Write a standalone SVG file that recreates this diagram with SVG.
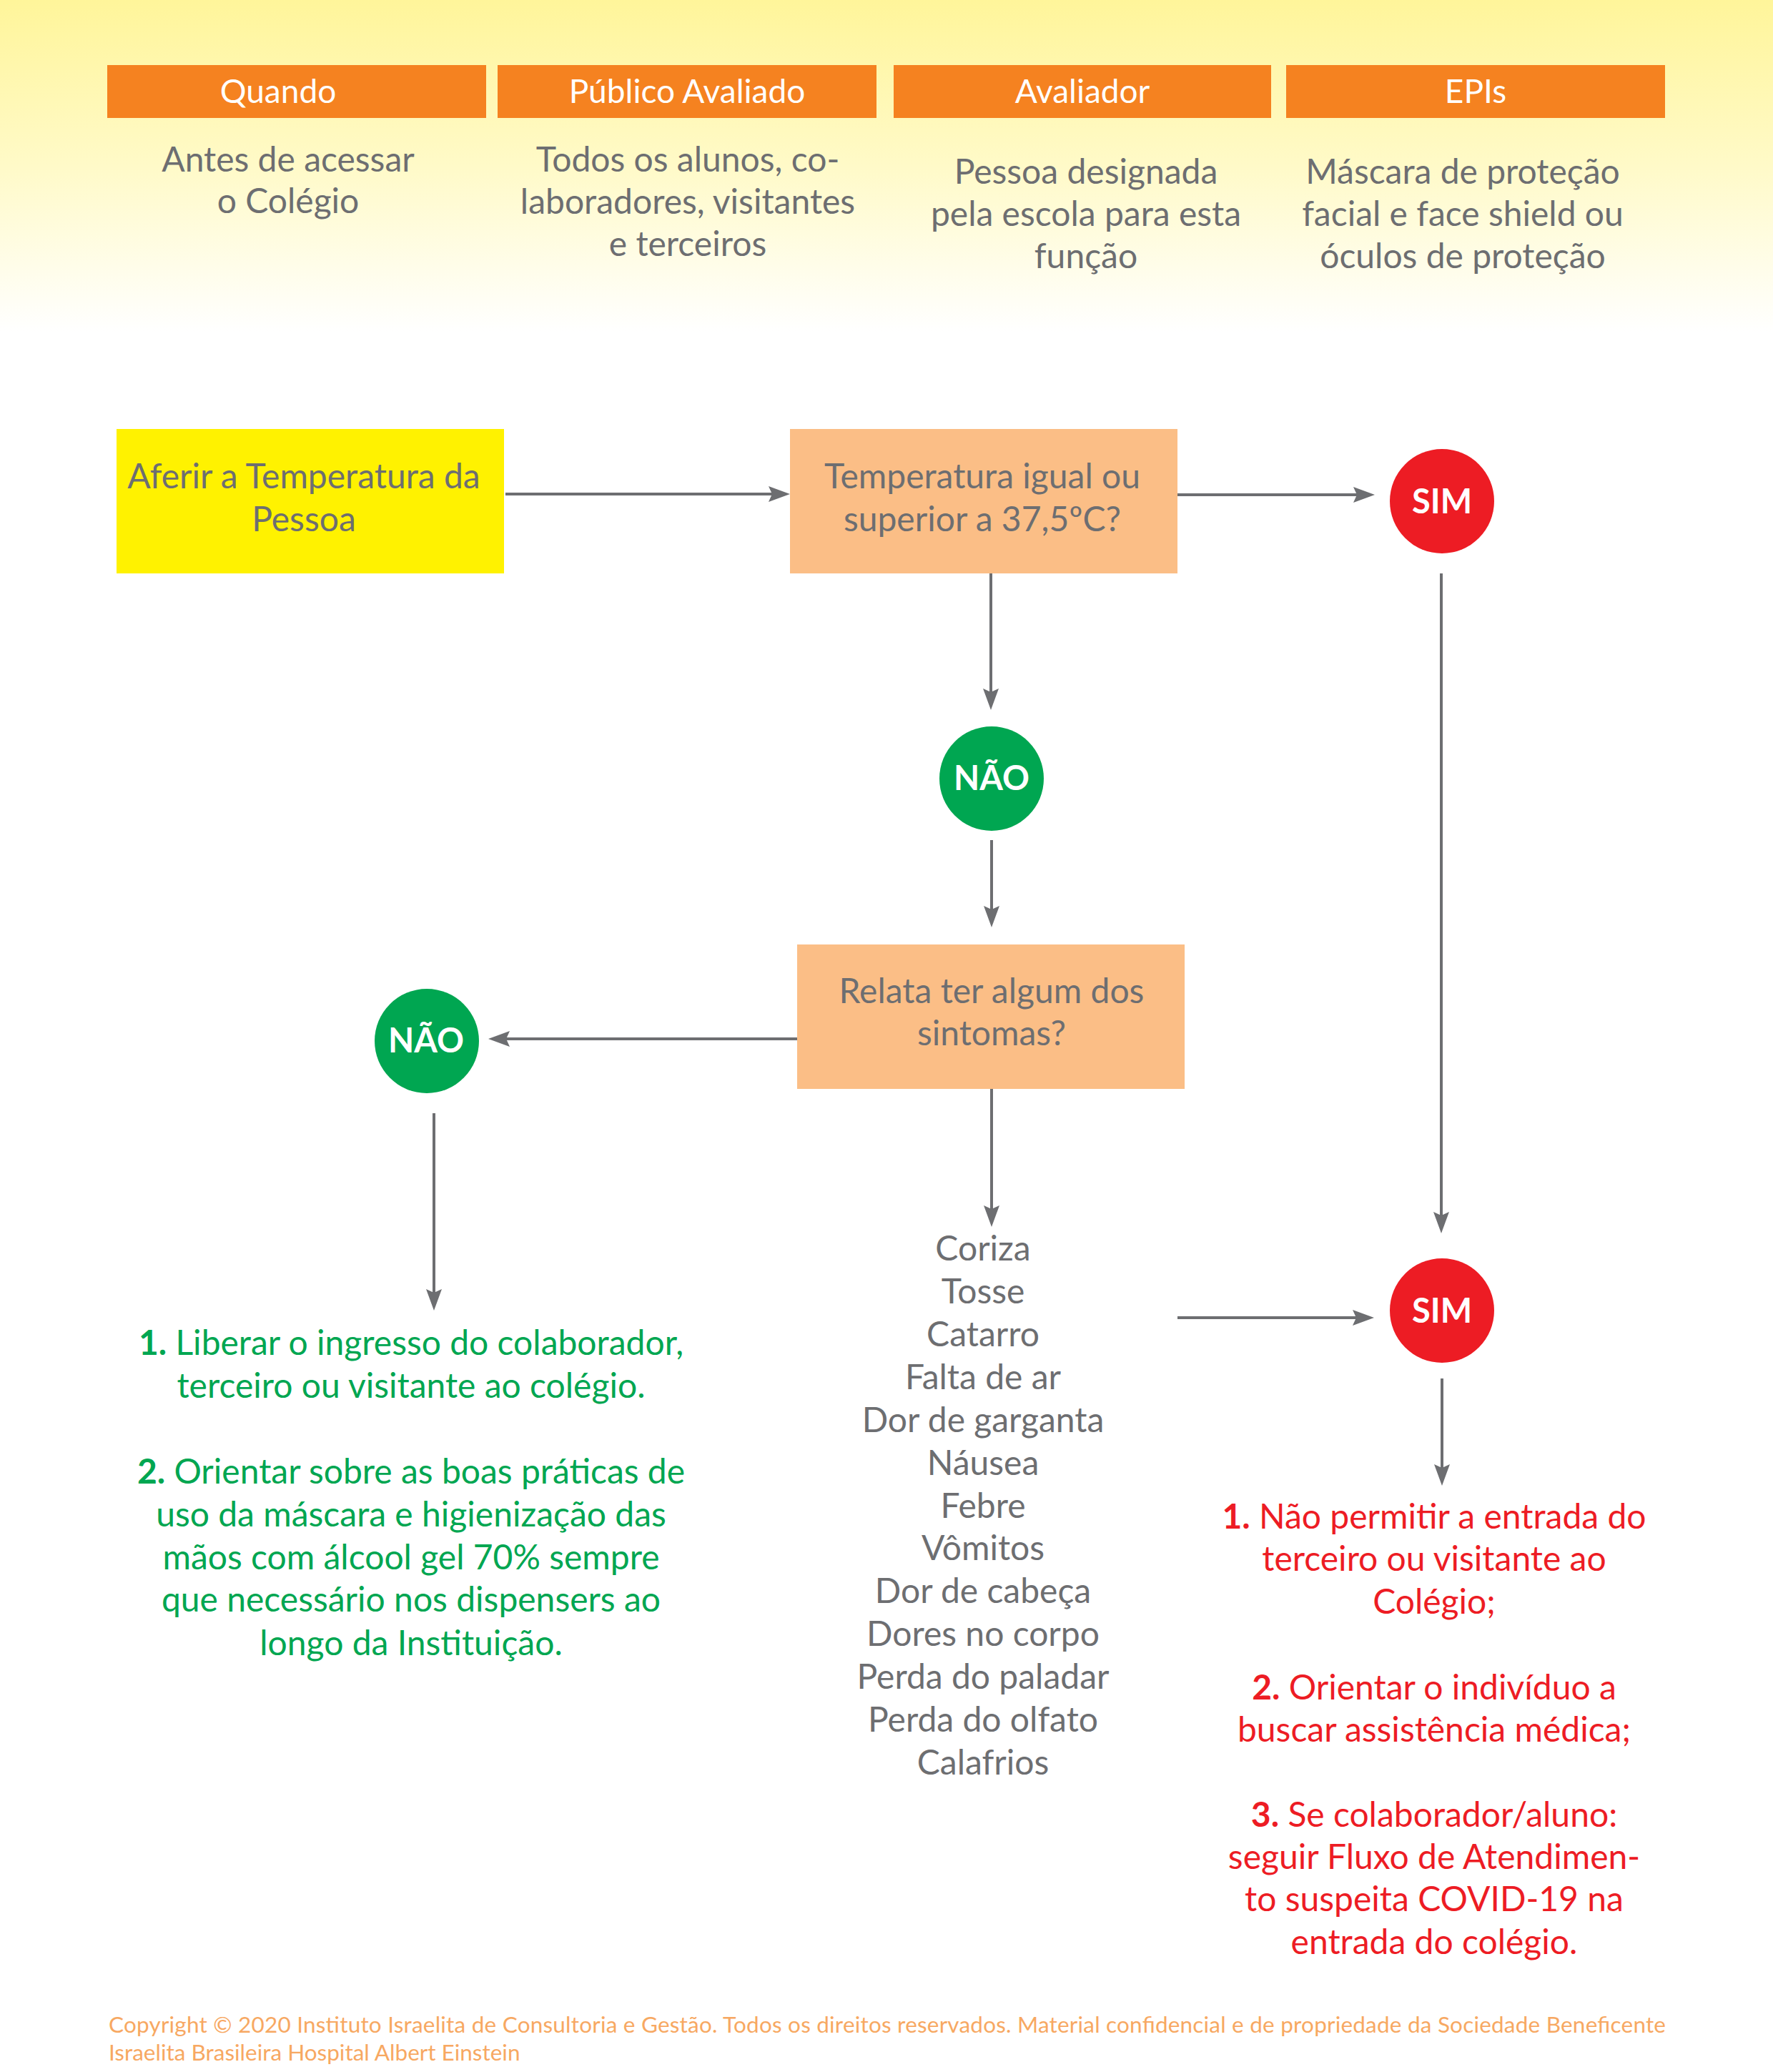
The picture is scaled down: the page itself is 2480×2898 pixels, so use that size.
<svg xmlns="http://www.w3.org/2000/svg" width="2480" height="2898" viewBox="0 0 2480 2898">
<defs>
<linearGradient id="bg" x1="0" y1="0" x2="0" y2="1">
<stop offset="0" stop-color="#FFF59A"/>
<stop offset="0.5" stop-color="#FFFAC8"/>
<stop offset="1" stop-color="#FFFFFF"/>
</linearGradient>
<marker id="arr" markerUnits="userSpaceOnUse" markerWidth="30" markerHeight="22" viewBox="0 0 30 22" refX="10" refY="11" orient="auto">
<path d="M0,0 L30,11 L0,22 L5,11 Z" fill="#6D6E71"/>
</marker>
</defs>
<style>
text{font-family:Lato,"Open Sans","Liberation Sans",sans-serif;text-anchor:middle}
.hd{fill:#FFFFFF;font-size:46px}
.hbox{fill:#F58220}
.body{fill:#6D6E71;font-size:48px}
.lbl{fill:#FFFFFF;font-size:47px;font-weight:bold}
.grn{fill:#00A651;font-size:48px}
.red{fill:#ED1C24;font-size:48px}
.b{font-weight:bold}
.con{fill:none;stroke:#6D6E71;stroke-width:4;marker-end:url(#arr)}
.copy{fill:#F7A862;font-size:31.5px;text-anchor:start}
</style>
<rect x="0" y="0" width="2480" height="2898" fill="#FFFFFF"/>
<rect x="0" y="0" width="2480" height="465" fill="url(#bg)"/>

<g id="header-quando">
<rect class="hbox" x="150" y="91" width="530" height="74"/>
<text class="hd" x="389" y="144">Quando</text>
<text class="body" x="403" y="240">Antes de acessar</text>
<text class="body" x="403" y="298">o Colégio</text>
</g>
<g id="header-publico">
<rect class="hbox" x="696" y="91" width="530" height="74"/>
<text class="hd" x="961" y="144">Público Avaliado</text>
<text class="body" x="962" y="240">Todos os alunos, co-</text>
<text class="body" x="962" y="299">laboradores, visitantes</text>
<text class="body" x="962" y="358">e terceiros</text>
</g>
<g id="header-avaliador">
<rect class="hbox" x="1250" y="91" width="528" height="74"/>
<text class="hd" x="1514" y="144">Avaliador</text>
<text class="body" x="1519" y="257">Pessoa designada</text>
<text class="body" x="1519" y="316">pela escola para esta</text>
<text class="body" x="1519" y="375">função</text>
</g>
<g id="header-epis">
<rect class="hbox" x="1799" y="91" width="530" height="74"/>
<text class="hd" x="2064" y="144">EPIs</text>
<text class="body" x="2046" y="257">Máscara de proteção</text>
<text class="body" x="2046" y="316">facial e face shield ou</text>
<text class="body" x="2046" y="375">óculos de proteção</text>
</g>

<g id="connectors">
<path class="con" d="M707,691 H1085"/>
<path class="con" d="M1647,692 H1903"/>
<path class="con" d="M1386,802 V973"/>
<path class="con" d="M1387,1175 V1277"/>
<path class="con" d="M1115,1453 H703"/>
<path class="con" d="M607,1557 V1813"/>
<path class="con" d="M1387,1523 V1696"/>
<path class="con" d="M2016,802 V1705"/>
<path class="con" d="M1647,1843 H1902"/>
<path class="con" d="M2017,1928 V2058"/>
</g>

<g id="aferir">
<rect x="163" y="600" width="542" height="202" fill="#FFF200"/>
<text class="body" x="425" y="683">Aferir a Temperatura da</text>
<text class="body" x="425" y="743">Pessoa</text>
</g>
<g id="temperatura">
<rect x="1105" y="600" width="542" height="202" fill="#FBBE86"/>
<text class="body" x="1374" y="683">Temperatura igual ou</text>
<text class="body" x="1374" y="743">superior a 37,5ºC?</text>
</g>
<g id="sim1">
<circle cx="2017" cy="701" r="73" fill="#ED1C24"/>
<text class="lbl" x="2017" y="718">SIM</text>
</g>
<g id="nao1">
<circle cx="1387" cy="1089" r="73" fill="#00A651"/>
<text class="lbl" x="1387" y="1105">NÃO</text>
</g>
<g id="relata">
<rect x="1115" y="1321" width="542" height="202" fill="#FBBE86"/>
<text class="body" x="1387" y="1403">Relata ter algum dos</text>
<text class="body" x="1387" y="1462">sintomas?</text>
</g>
<g id="nao2">
<circle cx="597" cy="1456" r="73" fill="#00A651"/>
<text class="lbl" x="596" y="1472">NÃO</text>
</g>
<g id="sim2">
<circle cx="2017" cy="1833" r="73" fill="#ED1C24"/>
<text class="lbl" x="2017" y="1850">SIM</text>
</g>

<g id="sintomas">
<text class="body" x="1375" y="1763">Coriza</text>
<text class="body" x="1375" y="1823">Tosse</text>
<text class="body" x="1375" y="1883">Catarro</text>
<text class="body" x="1375" y="1943">Falta de ar</text>
<text class="body" x="1375" y="2003">Dor de garganta</text>
<text class="body" x="1375" y="2063">Náusea</text>
<text class="body" x="1375" y="2123">Febre</text>
<text class="body" x="1375" y="2182">Vômitos</text>
<text class="body" x="1375" y="2242">Dor de cabeça</text>
<text class="body" x="1375" y="2302">Dores no corpo</text>
<text class="body" x="1375" y="2362">Perda do paladar</text>
<text class="body" x="1375" y="2422">Perda do olfato</text>
<text class="body" x="1375" y="2482">Calafrios</text>
</g>

<g id="acao-nao">
<text class="grn" x="575" y="1895"><tspan class="b">1.</tspan> Liberar o ingresso do colaborador,</text>
<text class="grn" x="575" y="1955">terceiro ou visitante ao colégio.</text>
<text class="grn" x="575" y="2075"><tspan class="b">2.</tspan> Orientar sobre as boas práticas de</text>
<text class="grn" x="575" y="2135">uso da máscara e higienização das</text>
<text class="grn" x="575" y="2195">mãos com álcool gel 70% sempre</text>
<text class="grn" x="575" y="2254">que necessário nos dispensers ao</text>
<text class="grn" x="575" y="2315">longo da Instituição.</text>
</g>

<g id="acao-sim">
<text class="red" x="2006" y="2138"><tspan class="b">1.</tspan> Não permitir a entrada do</text>
<text class="red" x="2006" y="2197">terceiro ou visitante ao</text>
<text class="red" x="2006" y="2257">Colégio;</text>
<text class="red" x="2006" y="2377"><tspan class="b">2.</tspan> Orientar o indivíduo a</text>
<text class="red" x="2006" y="2436">buscar assistência médica;</text>
<text class="red" x="2006" y="2555"><tspan class="b">3.</tspan> Se colaborador/aluno:</text>
<text class="red" x="2006" y="2614">seguir Fluxo de Atendimen-</text>
<text class="red" x="2006" y="2673">to suspeita COVID-19 na</text>
<text class="red" x="2006" y="2733">entrada do colégio.</text>
</g>

<g id="copyright">
<text class="copy" x="152" y="2843" textLength="2178">Copyright © 2020 Instituto Israelita de Consultoria e Gestão. Todos os direitos reservados. Material confidencial e de propriedade da Sociedade Beneficente</text>
<text class="copy" x="152" y="2882">Israelita Brasileira Hospital Albert Einstein</text>
</g>
</svg>
